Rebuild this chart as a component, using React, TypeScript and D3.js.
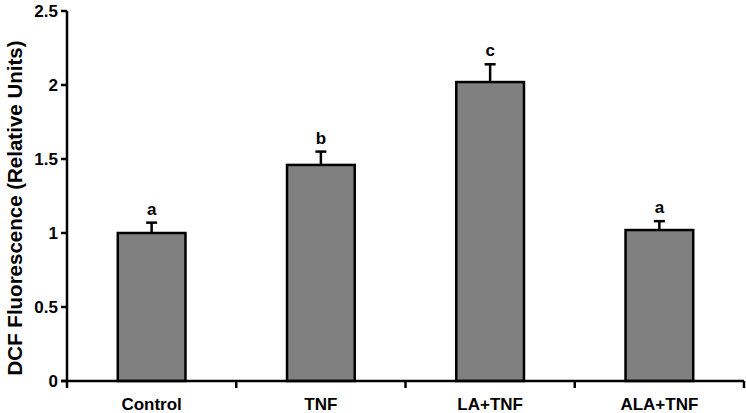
import React, { useEffect, useRef } from 'react'
import * as d3 from 'd3'

const categories = ['Control', 'TNF', 'LA+TNF', 'ALA+TNF']
const values = [1.0, 1.46, 2.02, 1.02]
const errors = [0.07, 0.09, 0.12, 0.06]
const letters = ['a', 'b', 'c', 'a']
const yTicks = [0, 0.5, 1, 1.5, 2, 2.5]

const App = () => {
  const ref = useRef<SVGSVGElement | null>(null)

  useEffect(() => {
    if (!ref.current) return
    const svg = d3.select(ref.current)
    svg.selectAll('*').remove()

    const left = 67
    const right = 744
    const top = 11
    const bottom = 381
    const font = 'Arial, "Liberation Sans", sans-serif'

    const x = d3.scaleBand<string>().domain(categories).range([left, right]).paddingInner(0.6).paddingOuter(0.3)
    const step = (right - left) / categories.length
    const y = d3.scaleLinear().domain([0, 2.5]).range([bottom, top])

    // bars
    svg
      .selectAll('.bar')
      .data(values)
      .enter()
      .append('rect')
      .attr('x', (d, i) => x(categories[i])!)
      .attr('y', (d) => y(d))
      .attr('width', x.bandwidth())
      .attr('height', (d) => bottom - y(d))
      .attr('fill', '#808080')
      .attr('stroke', '#000')
      .attr('stroke-width', 2.5)

    // error bars (upper only)
    const eb = svg.append('g').attr('stroke', '#000').attr('stroke-width', 2.5)
    values.forEach((v, i) => {
      const cx = x(categories[i])! + x.bandwidth() / 2
      eb.append('line').attr('x1', cx).attr('x2', cx).attr('y1', y(v)).attr('y2', y(v + errors[i]))
      eb.append('line').attr('x1', cx - 5.5).attr('x2', cx + 5.5).attr('y1', y(v + errors[i])).attr('y2', y(v + errors[i]))
    })

    // significance letters
    svg
      .selectAll('.letter')
      .data(values)
      .enter()
      .append('text')
      .attr('x', (d, i) => x(categories[i])! + x.bandwidth() / 2)
      .attr('y', (d, i) => y(d + errors[i]) - 8)
      .attr('text-anchor', 'middle')
      .attr('font-family', font)
      .attr('font-weight', 'bold')
      .attr('font-size', 17)
      .text((d, i) => letters[i])

    // y axis
    const ya = svg.append('g')
    ya.append('line').attr('x1', left).attr('x2', left).attr('y1', top).attr('y2', bottom).attr('stroke', '#000').attr('stroke-width', 2.5)
    yTicks.forEach((t) => {
      ya.append('line').attr('x1', left - 6).attr('x2', left).attr('y1', y(t)).attr('y2', y(t)).attr('stroke', '#000').attr('stroke-width', 2.5)
      ya.append('text')
        .attr('x', left - 9)
        .attr('y', y(t))
        .attr('dy', '0.35em')
        .attr('text-anchor', 'end')
        .attr('font-family', font)
        .attr('font-weight', 'bold')
        .attr('font-size', 17)
        .text(String(t))
    })

    // x axis
    const xa = svg.append('g')
    xa.append('line').attr('x1', left - 6).attr('x2', right).attr('y1', bottom).attr('y2', bottom).attr('stroke', '#000').attr('stroke-width', 2.5)
    d3.range(categories.length + 1).forEach((i) => {
      const tx = left + i * step
      xa.append('line').attr('x1', tx).attr('x2', tx).attr('y1', bottom).attr('y2', bottom + 7).attr('stroke', '#000').attr('stroke-width', 2.5)
    })
    categories.forEach((c) => {
      xa.append('text')
        .attr('x', x(c)! + x.bandwidth() / 2)
        .attr('y', 410)
        .attr('text-anchor', 'middle')
        .attr('font-family', font)
        .attr('font-weight', 'bold')
        .attr('font-size', 17)
        .text(c)
    })

    // y label
    svg
      .append('text')
      .attr('transform', `translate(22, 208) rotate(-90)`)
      .attr('text-anchor', 'middle')
      .attr('font-family', font)
      .attr('font-weight', 'bold')
      .attr('font-size', 20.5)
      .text('DCF Fluorescence (Relative Units)')
  }, [])

  return <svg ref={ref} width={746} height={413} style={{ position: 'absolute', left: 0, top: 0, background: '#fff' }} />
}

export default App
